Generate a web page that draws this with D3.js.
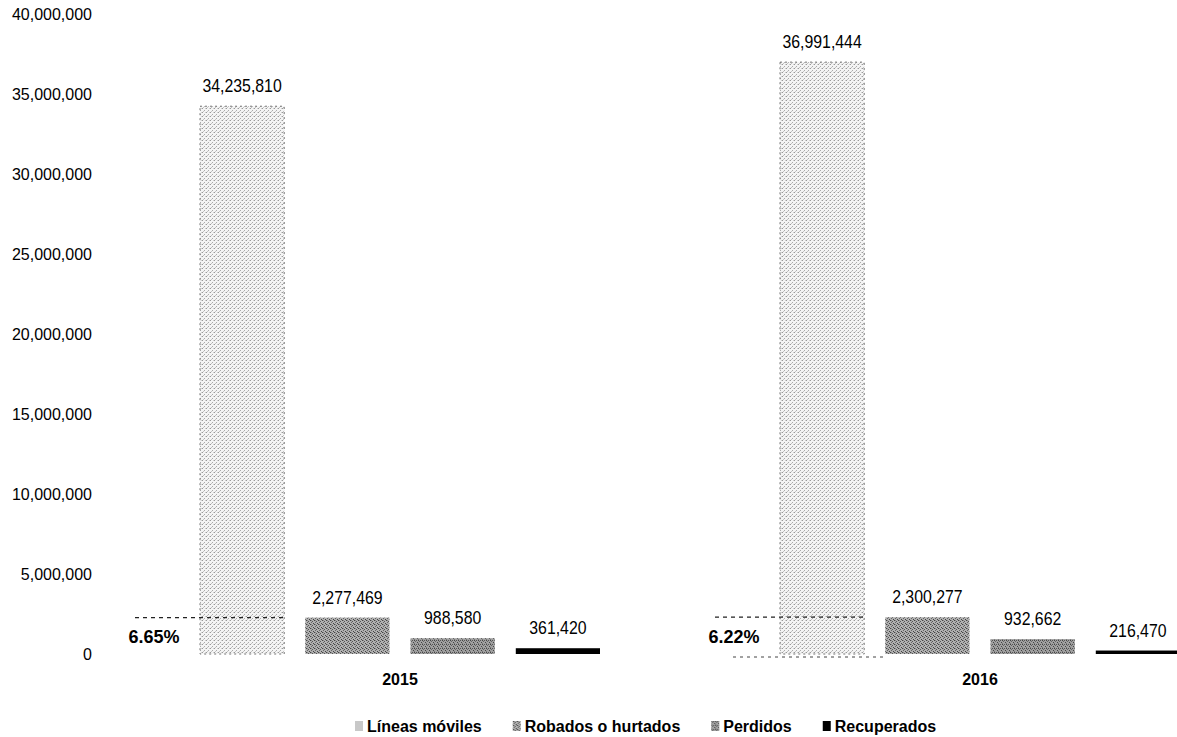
<!DOCTYPE html>
<html>
<head>
<meta charset="utf-8">
<script src="https://cdn.jsdelivr.net/npm/d3@7"></script>
<style>
  body { margin: 0; background: #fff; }
  text { font-family: "Liberation Sans", Arial, sans-serif; fill: #000; }
</style>
</head>
<body>
<div id="chart"></div>
<script>
var years = ["2015", "2016"];
var series = ["Líneas móviles", "Robados o hurtados", "Perdidos", "Recuperados"];
var values2015 = [34235810, 2277469, 988580, 361420];
var values2016 = [36991444, 2300277, 932662, 216470];
var yTicks = [0, 5000000, 10000000, 15000000, 20000000, 25000000, 30000000, 35000000, 40000000];

var width = 1177;
var height = 737;

var data = years.map(function(y, i) {
  var vals = i === 0 ? values2015 : values2016;
  return { year: y, values: series.map(function(s, j) { return { key: s, value: vals[j] }; }) };
});

var svg = d3.select("#chart")
  .append("svg")
  .attr("width", width)
  .attr("height", height);

// dithered patterns (the original is a scanned print)
var defs = svg.append("defs");

function addPattern(id, bg, dots, size) {
  var p = defs.append("pattern")
    .attr("id", id)
    .attr("patternUnits", "userSpaceOnUse")
    .attr("width", size)
    .attr("height", size);
  p.append("rect").attr("width", size).attr("height", size).attr("fill", bg);
  dots.forEach(function(d) {
    p.append("rect").attr("x", d[0]).attr("y", d[1]).attr("width", 1).attr("height", 1).attr("fill", d[2]);
  });
}

addPattern("patLineas", "#f4f4f4", [[0, 0, "#999"], [2, 2, "#aaa"], [3, 0, "#d0d0d0"], [1, 3, "#c4c4c4"]], 4);
addPattern("patRobados", "#b0b0b0", [[0, 0, "#444"], [2, 1, "#555"], [1, 2, "#666"], [3, 3, "#444"], [1, 0, "#888"]], 4);
addPattern("patPerdidos", "#a0a0a0", [[0, 0, "#444"], [2, 0, "#555"], [1, 1, "#666"], [3, 2, "#444"], [0, 3, "#777"]], 4);

var fills = ["url(#patLineas)", "url(#patRobados)", "url(#patPerdidos)", "#000000"];

var y = d3.scaleLinear()
  .domain([0, 40000000])
  .range([654, 14]);

var x0 = d3.scaleBand()
  .domain(years)
  .range([110, 1270]);

var x1 = d3.scaleBand()
  .domain(series)
  .range([90, 490])
  .paddingInner(0.2)
  .paddingOuter(0);

var fmt = d3.format(",");

// y axis, labels only
var yAxis = svg.append("g")
  .attr("transform", "translate(92,0)")
  .call(d3.axisLeft(y).tickValues(yTicks).tickSize(0).tickPadding(0).tickFormat(fmt));
yAxis.select(".domain").remove();
yAxis.selectAll("text")
  .style("font-size", "16px")
  .style("font-family", "'Liberation Sans', Arial, sans-serif")
  .attr("fill", "#000");

var groups = svg.selectAll(".grp")
  .data(data)
  .enter()
  .append("g")
  .attr("class", "grp")
  .attr("transform", function(d) { return "translate(" + x0(d.year) + ",0)"; });

groups.selectAll("rect")
  .data(function(d) { return d.values; })
  .enter()
  .append("rect")
  .attr("x", function(d) { return x1(d.key); })
  .attr("y", function(d) { return y(d.value); })
  .attr("width", x1.bandwidth())
  .attr("height", function(d) { return y(0) - y(d.value); })
  .attr("fill", function(d, i) { return fills[i]; })
  .attr("stroke", function(d, i) { return i === 0 ? "#777" : "none"; })
  .attr("stroke-width", 1)
  .attr("stroke-dasharray", "2,3");

// value labels, slightly condensed like the original
groups.selectAll(".val")
  .data(function(d) { return d.values; })
  .enter()
  .append("text")
  .attr("class", "val")
  .attr("transform", function(d) {
    return "translate(" + (x1(d.key) + x1.bandwidth() / 2) + "," + (y(d.value) - 14) + ") scale(0.88,1)";
  })
  .attr("text-anchor", "middle")
  .style("font-size", "18px")
  .text(function(d) { return fmt(d.value); });

// dashed guide at the "robados" level plus percentage
groups.append("line")
  .attr("x1", 25)
  .attr("x2", function() { return x1(series[0]) + x1.bandwidth(); })
  .attr("y1", function(d) { return y(d.values[1].value); })
  .attr("y2", function(d) { return y(d.values[1].value); })
  .attr("stroke", "#222")
  .attr("stroke-width", 1.2)
  .attr("stroke-dasharray", "4,4");

groups.append("line")
  .attr("x1", 43)
  .attr("x2", function() { return x1(series[1]); })
  .attr("y1", y(0) + 3)
  .attr("y2", y(0) + 3)
  .attr("stroke", "#444")
  .attr("stroke-width", 1)
  .attr("stroke-dasharray", "3,4")
  .attr("opacity", function(d, i) { return i === 1 ? 1 : 0; });

groups.append("text")
  .attr("x", 44)
  .attr("y", 643)
  .attr("text-anchor", "middle")
  .style("font-size", "18px")
  .style("font-weight", "bold")
  .text(function(d) { return (d.values[1].value / d.values[0].value * 100).toFixed(2) + "%"; });

groups.append("text")
  .attr("x", x0.bandwidth() / 2)
  .attr("y", 685)
  .attr("text-anchor", "middle")
  .style("font-size", "16px")
  .style("font-weight", "bold")
  .text(function(d) { return d.year; });

// legend, laid out left to right
var legend = svg.append("g").attr("transform", "translate(355,721)");
var lx = 0;
series.forEach(function(s, i) {
  var item = legend.append("g").attr("transform", "translate(" + lx + ",0)");
  item.append("rect")
    .attr("width", 8)
    .attr("height", 10)
    .attr("fill", i === 0 ? "#c8c8c8" : fills[i]);
  var t = item.append("text")
    .attr("x", 12)
    .attr("y", 11)
    .style("font-size", "16px")
    .style("font-weight", "bold")
    .text(s);
  lx += 12 + t.node().getComputedTextLength() + 31;
});
</script>
</body>
</html>
